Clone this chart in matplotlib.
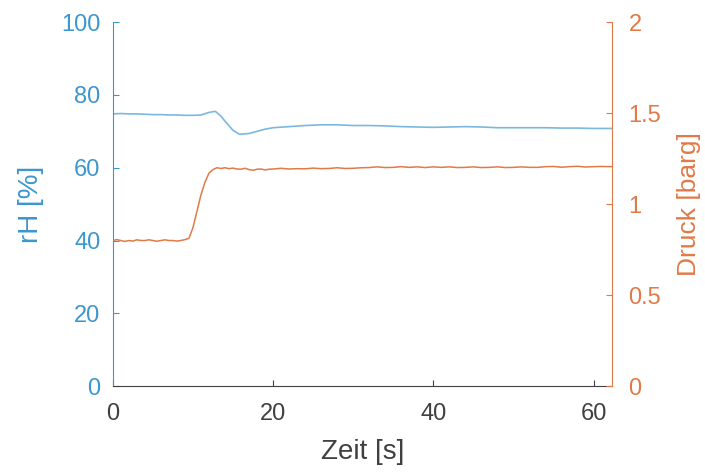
import matplotlib
matplotlib.use("Agg")
import matplotlib.pyplot as plt

plt.rcParams['font.family'] = ['Liberation Sans', 'DejaVu Sans']

# relative humidity [%]
t_rh = [0, 1, 2, 3, 4, 5, 6, 7, 8, 9, 10, 11, 12, 12.8, 13.5, 14, 15, 15.8, 17,
        18, 19, 20, 22, 24, 26, 28, 30, 32, 34, 36, 38, 40, 42, 44, 46, 48, 50,
        52, 54, 56, 58, 60, 62.3]
rh = [74.8, 74.9, 74.8, 74.8, 74.7, 74.6, 74.6, 74.5, 74.5, 74.4, 74.4, 74.5,
      75.2, 75.5, 74.2, 72.8, 70.3, 69.2, 69.4, 70.0, 70.6, 71.0, 71.3, 71.6,
      71.8, 71.8, 71.6, 71.6, 71.5, 71.3, 71.2, 71.1, 71.2, 71.3, 71.2, 71.0,
      71.0, 71.0, 71.0, 70.9, 70.9, 70.8, 70.8]

# pressure [barg]
t_p = [0, 0.5, 1, 1.5, 2, 2.5, 3, 3.5, 4, 4.5, 5, 5.5, 6, 6.5, 7, 7.5, 8, 8.5,
       9, 9.5, 10, 10.5, 11, 11.5, 12, 12.5, 13, 13.5, 14, 14.5, 15, 15.5, 16,
       16.5, 17, 17.5, 18, 18.5, 19, 19.5, 20, 21, 22, 23, 24, 25, 26, 27, 28,
       29, 30, 31, 32, 33, 34, 35, 36, 37, 38, 39, 40, 41, 42, 43, 44, 45, 46,
       47, 48, 49, 50, 51, 52, 53, 54, 55, 56, 57, 58, 59, 60, 61, 62.3]
druck = [0.800, 0.805, 0.800, 0.795, 0.800, 0.797, 0.804, 0.800, 0.800, 0.804,
         0.800, 0.796, 0.800, 0.804, 0.800, 0.800, 0.797, 0.800, 0.805, 0.812,
         0.870, 0.960, 1.050, 1.120, 1.170, 1.190, 1.200, 1.196, 1.200, 1.195,
         1.198, 1.193, 1.192, 1.197, 1.190, 1.186, 1.192, 1.193, 1.188, 1.192,
         1.193, 1.197, 1.193, 1.195, 1.194, 1.198, 1.195, 1.196, 1.200, 1.196,
         1.197, 1.200, 1.201, 1.205, 1.201, 1.202, 1.206, 1.202, 1.205, 1.201,
         1.205, 1.202, 1.205, 1.201, 1.202, 1.205, 1.201, 1.202, 1.205, 1.201,
         1.202, 1.205, 1.202, 1.202, 1.206, 1.207, 1.203, 1.206, 1.208, 1.204,
         1.206, 1.207, 1.206]

blue = '#3c97cf'
orange = '#e07a48'
gray = '#404040'

fig = plt.figure(figsize=(7.05, 4.72), dpi=100)
ax = fig.add_axes([0.160, 0.182, 0.708, 0.771])
ax2 = ax.twinx()

ax.plot(t_rh, rh, color='#7ab8df', lw=1.2)
ax2.plot(t_p, druck, color=orange, lw=1.1)

ax.set_xlim(0, 62.3)
ax.set_ylim(0, 100)
ax2.set_ylim(0, 2)
ax.set_xticks([0, 20, 40, 60])
ax.set_yticks([0, 20, 40, 60, 80, 100])
ax2.set_yticks([0, 0.5, 1, 1.5, 2])
ax2.set_yticklabels(['0', '0.5', '1', '1.5', '2'])

for a in (ax, ax2):
    a.spines['top'].set_visible(False)
ax.spines['left'].set_color(blue)
ax.spines['bottom'].set_color(gray)
ax.spines['right'].set_visible(False)
ax2.spines['left'].set_visible(False)
ax2.spines['bottom'].set_visible(False)
ax2.spines['right'].set_color(orange)

ax.tick_params(axis='y', colors=blue, direction='in', labelsize=17, length=4, pad=9)
ax.tick_params(axis='x', colors=gray, direction='in', labelsize=17, length=4, pad=12)
ax2.tick_params(axis='y', colors=orange, direction='in', labelsize=17, length=4, pad=12)

ax.set_xlabel('Zeit [s]', fontsize=20, color=gray, labelpad=10)
ax.set_ylabel('rH [%]', fontsize=20, color=blue, labelpad=12)
ax2.set_ylabel('Druck [barg]', fontsize=19, color=orange, labelpad=11)

fig.savefig('out.png', dpi=100)
